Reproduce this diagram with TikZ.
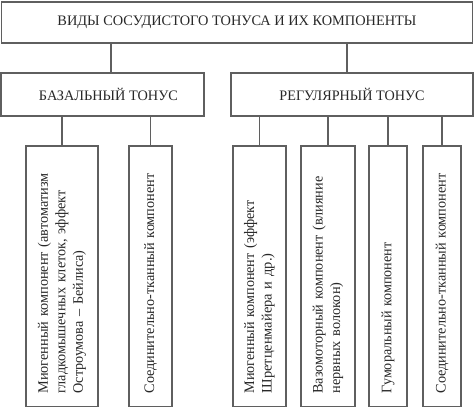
\documentclass[tikz,border=0pt]{standalone}
\usepackage{graphicx}
\usepackage{fontspec}
\setmainfont{Liberation Serif}
\definecolor{linec}{RGB}{95,95,95}
\definecolor{textc}{RGB}{40,40,40}
\newcommand\fitw[2]{\resizebox{#1pt}{\height}{#2}}
\begin{document}
\begin{tikzpicture}[x=1pt,y=-1pt,
  box/.style={draw=linec, line width=1.2pt, text=textc, font=\fontsize{14.5}{17.5}\selectfont, inner sep=0pt, anchor=center},
  hbox/.style 2 args={box, minimum width=#1, minimum height=#2},
  vbox/.style={box, rotate=90, align=left, inner xsep=13pt, minimum width=260.5pt, text width=234.5pt, minimum height=#1},
  conn/.style={draw=linec, line width=1.2pt}]
\useasboundingbox[fill=white] (0,0) rectangle (474,408);
\node[hbox={471pt}{41pt}] (top) at (237,22.5) {\fitw{359}{ВИДЫ СОСУДИСТОГО ТОНУСА И ИХ КОМПОНЕНТЫ}};
\node[hbox={203pt}{43pt}] (basal) at (102.5,94.5) {\hspace*{12pt}\fitw{139}{БАЗАЛЬНЫЙ ТОНУС}};
\node[hbox={242pt}{43pt}] (reg) at (352,94.5) {\fitw{145}{РЕГУЛЯРНЫЙ ТОНУС}};
\node[vbox=72pt] (b1) at (62,276.25) {\fitw{220}{Миогенный компонент (автоматизм}\\\fitw{203}{гладкомышечных клеток, эффект}\\\fitw{143}{Остроумова – Бейлиса)}};
\node[vbox=43pt] (b2) at (150.5,276.25) {\fitw{220}{Соединительно-тканный компонент}};
\node[vbox=53pt] (b3) at (259.5,276.25) {\fitw{193}{Миогенный компонент (эффект}\\\fitw{140}{Шретценмайера и др.)}};
\node[vbox=54pt] (b4) at (328,276.25) {\fitw{217}{Вазомоторный компонент (влияние}\\\fitw{111}{нервных волокон)}};
\node[vbox=38pt] (b5) at (388,276.25) {\fitw{151}{Гуморальный компонент}};
\node[vbox=38pt] (b6) at (442,276.25) {\fitw{220}{Соединительно-тканный компонент}};
\coordinate (c1) at (111,0);
\coordinate (c2) at (347,0);
\draw[conn] (top.south -| c1) -- (basal.north -| c1);
\draw[conn] (top.south -| c2) -- (reg.north -| c2);
\foreach \b in {b1,b2}{\draw[conn] (basal.south -| \b.east) -- (\b.east);}
\foreach \b in {b3,b4,b5,b6}{\draw[conn] (reg.south -| \b.east) -- (\b.east);}
\end{tikzpicture}
\end{document}
